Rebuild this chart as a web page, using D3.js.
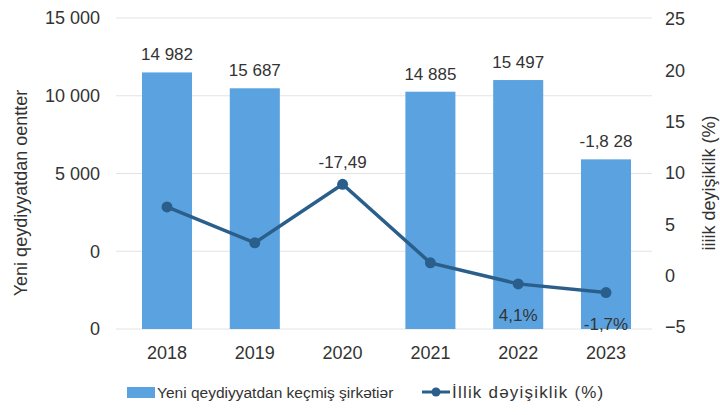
<!DOCTYPE html>
<html>
<head>
<meta charset="utf-8">
<script src="https://cdn.jsdelivr.net/npm/d3@7"></script>
<style>
  body { margin: 0; background: #fff; }
  svg text { font-family: "Liberation Sans", Arial, sans-serif; fill: #333; }
</style>
</head>
<body>
<div id="chart"></div>
<script>
// data
var years = ["2018", "2019", "2020", "2021", "2022", "2023"];
var companies = [11500, 10480, null, 10260, 11010, 5910];
var change = [6.7, 3.2, 8.9, 1.25, -0.8, -1.65];
var barLabels = ["14 982", "15 687", "-17,49", "14 885", "15 497", "-1,8 28"];
var lineLabels = [null, null, null, null, "4,1%", "-1,7%"];
var leftTicks = [-5000, 0, 5000, 10000, 15000];
var leftTickLabels = ["0", "0", "5 000", "10 000", "15 000"];
var rightTicks = [-5, 0, 5, 10, 15, 20, 25];

var W = 720, H = 415;
var barColor = "#5ba3e0", lineColor = "#2b5f8b", gridColor = "#e3e3e3";

var svg = d3.select("#chart").append("svg")
   .attr("width", W)
   .attr("height", H);

var x = d3.scalePoint()
   .domain(years)
   .range([167, 606]);
var barW = x.step() * 0.57;

var yL = d3.scaleLinear()
   .domain([-5000, 15000])
   .range([329, 18]);

var yR = d3.scaleLinear()
   .domain([-5, 25])
   .range([327, 19]);

// gridlines
svg.append("g")
   .selectAll("line")
   .data(leftTicks)
   .enter()
   .append("line")
   .attr("x1", 116)
   .attr("x2", 652)
   .attr("y1", function (d) { return yL(d); })
   .attr("y2", function (d) { return yL(d); })
   .attr("stroke", gridColor)
   .attr("stroke-width", 1);

// left axis
var leftAxis = svg.append("g")
   .attr("transform", "translate(100,0)")
   .call(d3.axisLeft(yL)
      .tickValues(leftTicks)
      .tickSize(0)
      .tickPadding(0)
      .tickFormat(function (d, i) { return leftTickLabels[i]; }));
leftAxis.select(".domain").remove();
leftAxis.selectAll("text").style("font-size", "18px").attr("fill", "#333");

// right axis
var rightAxis = svg.append("g")
   .attr("transform", "translate(665,0)")
   .call(d3.axisRight(yR)
      .tickValues(rightTicks)
      .tickSize(0)
      .tickPadding(0)
      .tickFormat(d3.format("d")));
rightAxis.select(".domain").remove();
rightAxis.selectAll("text").style("font-size", "18px").attr("fill", "#333");

// x axis labels
svg.append("g")
   .selectAll("text")
   .data(years)
   .enter()
   .append("text")
   .attr("x", function (d) { return x(d); })
   .attr("y", 359)
   .attr("text-anchor", "middle")
   .style("font-size", "18px")
   .text(function (d) { return d; });

// bars
svg.append("g")
   .selectAll("rect")
   .data(companies)
   .enter()
   .filter(function (d) { return d !== null; })
   .append("rect")
   .attr("x", function (d) { return x(years[companies.indexOf(d)]) - barW / 2; })
   .attr("y", function (d) { return yL(d); })
   .attr("width", barW)
   .attr("height", function (d) { return yL(-5000) - yL(d); })
   .attr("fill", barColor);

// line
var line = d3.line()
   .x(function (d, i) { return x(years[i]); })
   .y(function (d) { return yR(d); });

svg.append("path")
   .datum(change)
   .attr("d", line)
   .attr("fill", "none")
   .attr("stroke", lineColor)
   .attr("stroke-width", 3.5);

svg.append("g")
   .selectAll("circle")
   .data(change)
   .enter()
   .append("circle")
   .attr("cx", function (d, i) { return x(years[i]); })
   .attr("cy", function (d) { return yR(d); })
   .attr("r", 5.5)
   .attr("fill", lineColor);

// bar value labels (2020 has no bar, label sits above the point)
svg.append("g")
   .selectAll("text")
   .data(barLabels)
   .enter()
   .append("text")
   .attr("x", function (d, i) { return x(years[i]); })
   .attr("y", function (d, i) {
      if (companies[i] === null) return yR(change[i]) - 16;
      return yL(companies[i]) - 12;
   })
   .attr("text-anchor", "middle")
   .style("font-size", "17px")
   .text(function (d) { return d; });

// line labels
svg.append("g")
   .selectAll("text")
   .data(lineLabels)
   .enter()
   .filter(function (d) { return d !== null; })
   .append("text")
   .attr("x", function (d) { return x(years[lineLabels.indexOf(d)]); })
   .attr("y", function (d) { return yR(change[lineLabels.indexOf(d)]) + 37; })
   .attr("text-anchor", "middle")
   .style("font-size", "17px")
   .text(function (d) { return d; });

// axis titles
svg.append("text")
   .attr("transform", "translate(27,193) rotate(-90)")
   .attr("text-anchor", "middle")
   .style("font-size", "18px")
   .text("Yeni qeydiyyatdan oentter");

svg.append("text")
   .attr("transform", "translate(715,183) rotate(-90)")
   .attr("text-anchor", "middle")
   .style("font-size", "18px")
   .text("iiiik deyişikilk (%)");

// legend
var legend = svg.append("g");
legend.append("rect")
   .attr("x", 127).attr("y", 387)
   .attr("width", 28).attr("height", 11)
   .attr("fill", barColor);
legend.append("text")
   .attr("x", 157).attr("y", 398)
   .style("font-size", "15.5px")
   .text("Yeni qeydiyyatdan keçmiş şirkətiər");
legend.append("line")
   .attr("x1", 422).attr("x2", 450)
   .attr("y1", 392).attr("y2", 392)
   .attr("stroke", lineColor)
   .attr("stroke-width", 3);
legend.append("circle")
   .attr("cx", 436).attr("cy", 392).attr("r", 4.5)
   .attr("fill", lineColor);
legend.append("text")
   .attr("x", 452).attr("y", 398)
   .style("font-size", "17px")
   .style("letter-spacing", "1.2px")
   .text("İllik dəyişiklik (%)");
</script>
</body>
</html>
